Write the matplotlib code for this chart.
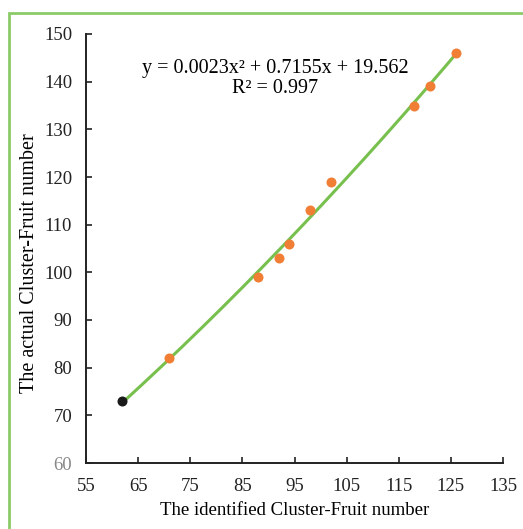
import numpy as np
import matplotlib
matplotlib.use("Agg")
import matplotlib.pyplot as plt
from matplotlib.patches import Rectangle

# data
x_identified = [71, 88, 92, 94, 98, 102, 118, 121, 126]
y_actual = [82, 99, 103, 106, 113, 119, 135, 139, 146]
x_black = [62]
y_black = [73]
x_ticks = [55, 65, 75, 85, 95, 105, 115, 125, 135]
y_ticks = [60, 70, 80, 90, 100, 110, 120, 130, 140, 150]
equation = "y = 0.0023x² + 0.7155x + 19.562"
r2_text = "R² = 0.997"

plt.rcParams['font.family'] = ['Liberation Serif', 'DejaVu Serif']

fig = plt.figure(figsize=(5.23, 5.29), dpi=100)
ax = fig.add_axes([86/523, 1-463/529, (503-86)/523, (463-34)/529])

all_x = np.array(x_black + x_identified, dtype=float)
all_y = np.array(y_black + y_actual, dtype=float)
coef = np.polyfit(all_x, all_y, 2)
xs = np.linspace(all_x.min(), all_x.max(), 200)
ax.plot(xs, np.polyval(coef, xs), color='#78C04E', lw=2.2, zorder=2)

ax.scatter(x_identified, y_actual, s=52, color='#F07F35', zorder=3, linewidths=0)
ax.scatter(x_black, y_black, s=52, color='#1a1a1a', zorder=3, linewidths=0)

ax.set_xlim(55, 135)
ax.set_ylim(60, 150)
ax.set_xticks(x_ticks)
ax.set_yticks(y_ticks)
ax.tick_params(direction='in', length=4, width=1.2, labelsize=13.5, colors='#222222')
ax.tick_params(axis='x', pad=11)
ax.tick_params(axis='y', pad=10)
for lab in ax.get_yticklabels():
    if lab.get_text() == '60':
        lab.set_color('#888888')
for s in ['top', 'right']:
    ax.spines[s].set_visible(False)
for s in ['left', 'bottom']:
    ax.spines[s].set_linewidth(1.4)
    ax.spines[s].set_color('#222222')

ax.set_xlabel('The identified Cluster-Fruit number', fontsize=13.5, labelpad=5)
ax.set_ylabel('The actual Cluster-Fruit number', fontsize=14.5)
ax.yaxis.set_label_coords((39-86)/417, (463-263)/429)

ax.text(91.3, 142.8, equation, ha='center', va='center', fontsize=14.5)
ax.text(91.3, 138.6, r2_text, ha='center', va='center', fontsize=14.5)

fig.add_artist(Rectangle((9/523, -0.05), 1.1, 1 - 13/529 + 0.05, transform=fig.transFigure,
                         fill=False, edgecolor='#8CCB6A', lw=2))

fig.savefig('out.png', dpi=100)
